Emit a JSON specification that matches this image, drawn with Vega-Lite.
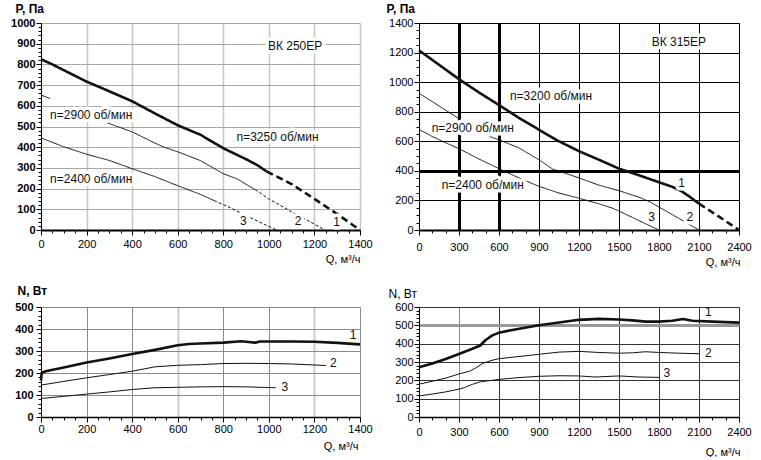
{
  "$schema": "https://vega.github.io/schema/vega-lite/v6.json",
  "background": "white",
  "padding": {"left": 10, "top": 2, "right": 0, "bottom": 0},
  "bounds": "flush",
  "columns": 2,
  "spacing": {"row": 77, "column": 59},
  "config": {
    "view": {"stroke": null},
    "legend": {"disable": true},
    "font": "Liberation Sans",
    "text": {"font": "Liberation Sans"},
    "axis": {
      "labelFont": "Liberation Sans", "titleFont": "Liberation Sans", "format": "d",
      "labelColor": "#000", "titleColor": "#000", "tickColor": "#000", "domainColor": "#000",
      "labelOverlap": false, "labelFlush": false, "labelFontSize": 11, "tickWidth": 1, "grid": true, "labelBound": false
    }
  },
  "datasets": {
    "p250": [
      {"Q":0,"P":825,"c":"1","s":"1s","k":"s"},{"Q":50,"P":800,"c":"1","s":"1s","k":"s"},{"Q":100,"P":772,"c":"1","s":"1s","k":"s"},{"Q":200,"P":717,"c":"1","s":"1s","k":"s"},{"Q":300,"P":670,"c":"1","s":"1s","k":"s"},{"Q":400,"P":622,"c":"1","s":"1s","k":"s"},{"Q":500,"P":563,"c":"1","s":"1s","k":"s"},{"Q":600,"P":506,"c":"1","s":"1s","k":"s"},{"Q":700,"P":460,"c":"1","s":"1s","k":"s"},{"Q":800,"P":395,"c":"1","s":"1s","k":"s"},{"Q":900,"P":342,"c":"1","s":"1s","k":"s"},{"Q":950,"P":313,"c":"1","s":"1s","k":"s"},{"Q":990,"P":283,"c":"1","s":"1s","k":"s"},
      {"Q":990,"P":283,"c":"1","s":"1d","k":"d"},{"Q":1100,"P":222,"c":"1","s":"1d","k":"d"},{"Q":1200,"P":150,"c":"1","s":"1d","k":"d"},{"Q":1300,"P":77,"c":"1","s":"1d","k":"d"},{"Q":1400,"P":0,"c":"1","s":"1d","k":"d"},
      {"Q":0,"P":652,"c":"2","s":"2a","k":"s"},{"Q":40,"P":635,"c":"2","s":"2a","k":"s"},
      {"Q":290,"P":518,"c":"2","s":"2b","k":"s"},{"Q":400,"P":474,"c":"2","s":"2b","k":"s"},{"Q":500,"P":420,"c":"2","s":"2b","k":"s"},{"Q":540,"P":400,"c":"2","s":"2b","k":"s"},{"Q":600,"P":378,"c":"2","s":"2b","k":"s"},{"Q":700,"P":335,"c":"2","s":"2b","k":"s"},{"Q":800,"P":272,"c":"2","s":"2b","k":"s"},{"Q":860,"P":247,"c":"2","s":"2b","k":"s"},{"Q":940,"P":195,"c":"2","s":"2b","k":"s"},
      {"Q":940,"P":195,"c":"2","s":"2d","k":"o"},{"Q":1000,"P":150,"c":"2","s":"2d","k":"o"},{"Q":1100,"P":88,"c":"2","s":"2d","k":"o"},{"Q":1200,"P":28,"c":"2","s":"2d","k":"o"},{"Q":1245,"P":0,"c":"2","s":"2d","k":"o"},
      {"Q":0,"P":445,"c":"3","s":"3s","k":"s"},{"Q":100,"P":402,"c":"3","s":"3s","k":"s"},{"Q":200,"P":366,"c":"3","s":"3s","k":"s"},{"Q":300,"P":336,"c":"3","s":"3s","k":"s"},{"Q":400,"P":296,"c":"3","s":"3s","k":"s"},{"Q":500,"P":258,"c":"3","s":"3s","k":"s"},{"Q":600,"P":214,"c":"3","s":"3s","k":"s"},{"Q":700,"P":172,"c":"3","s":"3s","k":"s"},{"Q":760,"P":142,"c":"3","s":"3s","k":"s"},
      {"Q":760,"P":142,"c":"3","s":"3d","k":"o"},{"Q":830,"P":108,"c":"3","s":"3d","k":"o"},{"Q":900,"P":70,"c":"3","s":"3d","k":"o"},{"Q":1000,"P":17,"c":"3","s":"3d","k":"o"},{"Q":1033,"P":0,"c":"3","s":"3d","k":"o"}
    ],
    "t250": [
      {"Q":996,"P":890,"t":"ВК 250ЕР"},{"Q":40,"P":555,"t":"n=2900 об/мин"},{"Q":858,"P":450,"t":"n=3250 об/мин"},{"Q":40,"P":244,"t":"n=2400 об/мин"},
      {"Q":873,"P":45,"t":"3"},{"Q":1114,"P":45,"t":"2"},{"Q":1283,"P":37,"t":"1"}
    ],
    "p315": [
      {"Q":0,"P":1215,"c":"1","s":"1s","k":"s"},{"Q":100,"P":1150,"c":"1","s":"1s","k":"s"},{"Q":200,"P":1085,"c":"1","s":"1s","k":"s"},{"Q":300,"P":1020,"c":"1","s":"1s","k":"s"},{"Q":450,"P":930,"c":"1","s":"1s","k":"s"},{"Q":600,"P":845,"c":"1","s":"1s","k":"s"},{"Q":750,"P":758,"c":"1","s":"1s","k":"s"},{"Q":900,"P":678,"c":"1","s":"1s","k":"s"},{"Q":1050,"P":600,"c":"1","s":"1s","k":"s"},{"Q":1200,"P":533,"c":"1","s":"1s","k":"s"},{"Q":1350,"P":475,"c":"1","s":"1s","k":"s"},{"Q":1500,"P":415,"c":"1","s":"1s","k":"s"},{"Q":1650,"P":370,"c":"1","s":"1s","k":"s"},{"Q":1800,"P":323,"c":"1","s":"1s","k":"s"},{"Q":1900,"P":292,"c":"1","s":"1s","k":"s"},{"Q":1970,"P":262,"c":"1","s":"1s","k":"s"},{"Q":2030,"P":225,"c":"1","s":"1s","k":"s"},{"Q":2100,"P":178,"c":"1","s":"1s","k":"s"},
      {"Q":2100,"P":178,"c":"1","s":"1d","k":"d"},{"Q":2250,"P":90,"c":"1","s":"1d","k":"d"},{"Q":2400,"P":0,"c":"1","s":"1d","k":"d"},
      {"Q":0,"P":925,"c":"2","s":"2a","k":"s"},{"Q":100,"P":868,"c":"2","s":"2a","k":"s"},{"Q":200,"P":810,"c":"2","s":"2a","k":"s"},{"Q":310,"P":748,"c":"2","s":"2a","k":"s"},
      {"Q":530,"P":632,"c":"2","s":"2b","k":"s"},{"Q":600,"P":610,"c":"2","s":"2b","k":"s"},{"Q":750,"P":555,"c":"2","s":"2b","k":"s"},{"Q":900,"P":475,"c":"2","s":"2b","k":"s"},{"Q":1000,"P":413,"c":"2","s":"2b","k":"s"},{"Q":1100,"P":383,"c":"2","s":"2b","k":"s"},{"Q":1200,"P":352,"c":"2","s":"2b","k":"s"},{"Q":1350,"P":303,"c":"2","s":"2b","k":"s"},{"Q":1500,"P":266,"c":"2","s":"2b","k":"s"},{"Q":1650,"P":222,"c":"2","s":"2b","k":"s"},{"Q":1730,"P":191,"c":"2","s":"2b","k":"s"},{"Q":1800,"P":155,"c":"2","s":"2b","k":"s"},{"Q":1900,"P":104,"c":"2","s":"2b","k":"s"},{"Q":2000,"P":52,"c":"2","s":"2b","k":"s"},{"Q":2100,"P":0,"c":"2","s":"2b","k":"s"},
      {"Q":0,"P":680,"c":"3","s":"3s","k":"s"},{"Q":100,"P":632,"c":"3","s":"3s","k":"s"},{"Q":200,"P":590,"c":"3","s":"3s","k":"s"},{"Q":300,"P":550,"c":"3","s":"3s","k":"s"},{"Q":450,"P":480,"c":"3","s":"3s","k":"s"},{"Q":600,"P":415,"c":"3","s":"3s","k":"s"},{"Q":750,"P":352,"c":"3","s":"3s","k":"s"},{"Q":900,"P":295,"c":"3","s":"3s","k":"s"},{"Q":1050,"P":250,"c":"3","s":"3s","k":"s"},{"Q":1200,"P":215,"c":"3","s":"3s","k":"s"},{"Q":1350,"P":177,"c":"3","s":"3s","k":"s"},{"Q":1450,"P":148,"c":"3","s":"3s","k":"s"},{"Q":1500,"P":128,"c":"3","s":"3s","k":"s"},{"Q":1600,"P":85,"c":"3","s":"3s","k":"s"},{"Q":1700,"P":42,"c":"3","s":"3s","k":"s"},{"Q":1800,"P":0,"c":"3","s":"3s","k":"s"}
    ],
    "t315": [
      {"Q":1745,"P":1274,"t":"ВК 315ЕР"},{"Q":682,"P":904,"t":"n=3200 об/мин"},{"Q":95,"P":691,"t":"n=2900 об/мин"},{"Q":170,"P":305,"t":"n=2400 об/мин"},
      {"Q":1945,"P":321,"t":"1"},{"Q":2007,"P":85,"t":"2"},{"Q":1720,"P":85,"t":"3"}
    ],
    "n250": [
      {"Q":0,"N":165,"c":"1"},{"Q":3,"N":200,"c":"1"},{"Q":20,"N":208,"c":"1"},{"Q":100,"N":225,"c":"1"},{"Q":200,"N":248,"c":"1"},{"Q":300,"N":266,"c":"1"},{"Q":400,"N":286,"c":"1"},{"Q":500,"N":305,"c":"1"},{"Q":600,"N":326,"c":"1"},{"Q":650,"N":332,"c":"1"},{"Q":700,"N":334,"c":"1"},{"Q":800,"N":338,"c":"1"},{"Q":880,"N":344,"c":"1"},{"Q":910,"N":341,"c":"1"},{"Q":940,"N":338,"c":"1"},{"Q":960,"N":343,"c":"1"},{"Q":1000,"N":343,"c":"1"},{"Q":1100,"N":343,"c":"1"},{"Q":1200,"N":342,"c":"1"},{"Q":1300,"N":337,"c":"1"},{"Q":1400,"N":330,"c":"1"},
      {"Q":0,"N":145,"c":"2"},{"Q":100,"N":162,"c":"2"},{"Q":200,"N":178,"c":"2"},{"Q":300,"N":193,"c":"2"},{"Q":400,"N":208,"c":"2"},{"Q":500,"N":228,"c":"2"},{"Q":600,"N":235,"c":"2"},{"Q":700,"N":238,"c":"2"},{"Q":800,"N":243,"c":"2"},{"Q":900,"N":244,"c":"2"},{"Q":1000,"N":243,"c":"2"},{"Q":1100,"N":241,"c":"2"},{"Q":1250,"N":234,"c":"2"},
      {"Q":0,"N":84,"c":"3"},{"Q":100,"N":94,"c":"3"},{"Q":200,"N":104,"c":"3"},{"Q":300,"N":114,"c":"3"},{"Q":400,"N":125,"c":"3"},{"Q":500,"N":133,"c":"3"},{"Q":600,"N":135,"c":"3"},{"Q":700,"N":137,"c":"3"},{"Q":800,"N":138,"c":"3"},{"Q":900,"N":137,"c":"3"},{"Q":1030,"N":133,"c":"3"}
    ],
    "tn250": [
      {"Q":1355,"N":375,"t":"1"},{"Q":1268,"N":245,"t":"2"},{"Q":1056,"N":138,"t":"3"}
    ],
    "n315": [
      {"Q":0,"N":271,"c":"1"},{"Q":100,"N":292,"c":"1"},{"Q":200,"N":316,"c":"1"},{"Q":300,"N":344,"c":"1"},{"Q":400,"N":372,"c":"1"},{"Q":460,"N":390,"c":"1"},{"Q":500,"N":420,"c":"1"},{"Q":550,"N":445,"c":"1"},{"Q":600,"N":460,"c":"1"},{"Q":700,"N":475,"c":"1"},{"Q":900,"N":500,"c":"1"},{"Q":1050,"N":515,"c":"1"},{"Q":1200,"N":530,"c":"1"},{"Q":1350,"N":535,"c":"1"},{"Q":1500,"N":532,"c":"1"},{"Q":1600,"N":527,"c":"1"},{"Q":1700,"N":520,"c":"1"},{"Q":1800,"N":520,"c":"1"},{"Q":1900,"N":525,"c":"1"},{"Q":1980,"N":535,"c":"1"},{"Q":2050,"N":525,"c":"1"},{"Q":2200,"N":520,"c":"1"},{"Q":2400,"N":515,"c":"1"},
      {"Q":0,"N":179,"c":"2"},{"Q":100,"N":195,"c":"2"},{"Q":200,"N":212,"c":"2"},{"Q":300,"N":235,"c":"2"},{"Q":380,"N":250,"c":"2"},{"Q":420,"N":265,"c":"2"},{"Q":480,"N":293,"c":"2"},{"Q":540,"N":308,"c":"2"},{"Q":600,"N":318,"c":"2"},{"Q":750,"N":330,"c":"2"},{"Q":900,"N":342,"c":"2"},{"Q":1050,"N":354,"c":"2"},{"Q":1200,"N":358,"c":"2"},{"Q":1350,"N":352,"c":"2"},{"Q":1500,"N":348,"c":"2"},{"Q":1600,"N":350,"c":"2"},{"Q":1700,"N":356,"c":"2"},{"Q":1800,"N":352,"c":"2"},{"Q":1950,"N":348,"c":"2"},{"Q":2100,"N":345,"c":"2"},
      {"Q":0,"N":115,"c":"3"},{"Q":100,"N":125,"c":"3"},{"Q":200,"N":137,"c":"3"},{"Q":300,"N":152,"c":"3"},{"Q":340,"N":160,"c":"3"},{"Q":400,"N":178,"c":"3"},{"Q":460,"N":192,"c":"3"},{"Q":600,"N":205,"c":"3"},{"Q":750,"N":215,"c":"3"},{"Q":900,"N":222,"c":"3"},{"Q":1050,"N":225,"c":"3"},{"Q":1200,"N":224,"c":"3"},{"Q":1320,"N":218,"c":"3"},{"Q":1500,"N":224,"c":"3"},{"Q":1650,"N":218,"c":"3"},{"Q":1800,"N":216,"c":"3"}
    ],
    "tn315": [
      {"Q":2145,"N":574,"t":"1"},{"Q":2145,"N":349,"t":"2"},{"Q":1833,"N":240,"t":"3"}
    ]
  },
  "concat": [
    {
      "width": 319, "height": 207,
      "encoding": {
        "x": {"field": "Q", "type": "quantitative", "scale": {"domain": [0, 1400], "nice": false},
          "axis": {
            "values": [0,50,100,150,200,250,300,350,400,450,500,550,600,650,700,750,800,850,900,950,1000,1050,1100,1150,1200,1250,1300,1350,1400],
            "labelExpr": "datum.value % 200 === 0 ? datum.label : ''",
            "gridColor": "#c4c4c4", "gridWidth": 1.5,
            "gridOpacity": {"condition": {"test": "datum.value % 200 !== 0", "value": 0}, "value": 1},
            "tickSize": {"condition": {"test": "datum.value % 200 !== 0", "value": 3}, "value": 5},
            "domainWidth": 2, "labelPadding": 3,
            "title": "Q, м³/ч", "titleAlign": "right", "titleX": 319, "titleY": 32, "titleBaseline": "alphabetic", "titleFontWeight": "normal", "titleFontSize": 11
          }},
        "y": {"field": "P", "type": "quantitative", "scale": {"domain": [0, 1000], "nice": false},
          "axis": {
            "values": [0,20,40,60,80,100,120,140,160,180,200,220,240,260,280,300,320,340,360,380,400,420,440,460,480,500,520,540,560,580,600,620,640,660,680,700,720,740,760,780,800,820,840,860,880,900,920,940,960,980,1000],
            "labelExpr": "datum.value % 100 === 0 ? datum.label : ''",
            "gridColor": "#a8a8a8", "gridWidth": 1,
            "gridOpacity": {"condition": {"test": "datum.value % 100 !== 0", "value": 0}, "value": 1},
            "tickSize": {"condition": {"test": "datum.value % 100 !== 0", "value": 3}, "value": 5},
            "labelFontWeight": "bold", "labelPadding": 1,
            "title": "P, Па", "titleAngle": 0, "titleAlign": "left", "titleBaseline": "alphabetic", "titleX": -26, "titleY": -11, "titleFontWeight": "bold", "titleFontSize": 12
          }}
      },
      "layer": [
        {"data": {"name": "p250"}, "mark": {"type": "line", "color": "#111", "strokeCap": "butt", "strokeJoin": "round"},
          "encoding": {
            "detail": {"field": "s"},
            "strokeWidth": {"field": "c", "type": "nominal", "scale": {"type": "ordinal", "domain": ["1","2","3"], "range": [2.6, 1, 1]}, "legend": null},
            "strokeDash": {"field": "k", "type": "nominal", "scale": {"domain": ["s","d","o"], "range": [[1,0],[7,4],[3,2]]}, "legend": null}
          }},
        {"data": {"name": "t250"}, "mark": {"type": "text", "align": "left", "baseline": "middle", "fontSize": 12, "color": "white", "stroke": "white", "strokeWidth": 7, "strokeJoin": "round"},
          "encoding": {"text": {"field": "t"}}},
        {"data": {"name": "t250"}, "mark": {"type": "text", "align": "left", "baseline": "middle", "fontSize": 12, "color": "#111"},
          "encoding": {"text": {"field": "t"}}}
      ]
    },
    {
      "width": 320, "height": 207,
      "encoding": {
        "x": {"field": "Q", "type": "quantitative", "scale": {"domain": [0, 2400], "nice": false},
          "axis": {
            "values": [0,100,200,300,400,500,600,700,800,900,1000,1100,1200,1300,1400,1500,1600,1700,1800,1900,2000,2100,2200,2300,2400],
            "labelExpr": "datum.value % 300 === 0 ? datum.label : ''",
            "gridColor": "#000",
            "gridWidth": {"condition": {"test": "datum.value == 300 || datum.value == 600", "value": 3}, "value": 1},
            "gridOpacity": {"condition": {"test": "datum.value % 300 !== 0", "value": 0}, "value": 1},
            "tickSize": {"condition": {"test": "datum.value % 300 !== 0", "value": 3}, "value": 5},
            "domainWidth": 2, "labelPadding": 6,
            "title": "Q, м³/ч", "titleAlign": "right", "titleX": 321, "titleY": 35, "titleBaseline": "alphabetic", "titleFontWeight": "normal", "titleFontSize": 11
          }},
        "y": {"field": "P", "type": "quantitative", "scale": {"domain": [0, 1400], "nice": false},
          "axis": {
            "values": [0,50,100,150,200,250,300,350,400,450,500,550,600,650,700,750,800,850,900,950,1000,1050,1100,1150,1200,1250,1300,1350,1400],
            "labelExpr": "datum.value % 200 === 0 ? datum.label : ''",
            "gridColor": "#000",
            "gridWidth": {"condition": {"test": "datum.value == 400", "value": 3}, "value": 1},
            "gridOpacity": {"condition": {"test": "datum.value % 200 !== 0", "value": 0}, "value": 1},
            "tickSize": {"condition": {"test": "datum.value % 200 !== 0", "value": 3}, "value": 5},
            "labelPadding": 1,
            "title": "P, Па", "titleAngle": 0, "titleAlign": "left", "titleBaseline": "alphabetic", "titleX": -33, "titleY": -11, "titleFontWeight": "bold", "titleFontSize": 12
          }}
      },
      "layer": [
        {"data": {"name": "p315"}, "mark": {"type": "line", "color": "#111", "strokeCap": "butt", "strokeJoin": "round"},
          "encoding": {
            "detail": {"field": "s"},
            "strokeWidth": {"field": "c", "type": "nominal", "scale": {"type": "ordinal", "domain": ["1","2","3"], "range": [3, 1.4, 1.4]}, "legend": null},
            "strokeDash": {"field": "k", "type": "nominal", "scale": {"domain": ["s","d","o"], "range": [[1,0],[7,4],[3,2]]}, "legend": null}
          }},
        {"data": {"name": "t315"}, "mark": {"type": "text", "align": "left", "baseline": "middle", "fontSize": 12, "color": "white", "stroke": "white", "strokeWidth": 7, "strokeJoin": "round"},
          "encoding": {"text": {"field": "t"}}},
        {"data": {"name": "t315"}, "mark": {"type": "text", "align": "left", "baseline": "middle", "fontSize": 12, "color": "#111"},
          "encoding": {"text": {"field": "t"}}}
      ]
    },
    {
      "width": 319, "height": 110,
      "encoding": {
        "x": {"field": "Q", "type": "quantitative", "scale": {"domain": [0, 1400], "nice": false},
          "axis": {
            "values": [0,50,100,150,200,250,300,350,400,450,500,550,600,650,700,750,800,850,900,950,1000,1050,1100,1150,1200,1250,1300,1350,1400],
            "labelExpr": "datum.value % 200 === 0 ? datum.label : ''",
            "gridColor": {"condition": {"test": "datum.value == 600 || datum.value == 1200", "value": "#cccccc"}, "value": "#8a8a8a"},
            "gridWidth": {"condition": {"test": "datum.value == 600 || datum.value == 1200", "value": 2}, "value": 1},
            "gridOpacity": {"condition": {"test": "datum.value % 200 !== 0", "value": 0}, "value": 1},
            "tickSize": {"condition": {"test": "datum.value % 200 !== 0", "value": 3}, "value": 5},
            "domainWidth": 1.5, "labelPadding": 1,
            "title": "Q, м³/ч", "titleAlign": "right", "titleX": 317, "titleY": 32, "titleBaseline": "alphabetic", "titleFontWeight": "normal", "titleFontSize": 11
          }},
        "y": {"field": "N", "type": "quantitative", "scale": {"domain": [0, 500], "nice": false},
          "axis": {
            "values": [0,20,40,60,80,100,120,140,160,180,200,220,240,260,280,300,320,340,360,380,400,420,440,460,480,500],
            "labelExpr": "datum.value % 100 === 0 ? datum.label : ''",
            "gridColor": "#8a8a8a", "gridWidth": 1,
            "gridOpacity": {"condition": {"test": "datum.value % 100 !== 0", "value": 0}, "value": 1},
            "tickSize": {"condition": {"test": "datum.value % 100 !== 0", "value": 3}, "value": 5},
            "labelFontWeight": "bold", "labelPadding": 3,
            "title": "N, Вт", "titleAngle": 0, "titleAlign": "left", "titleBaseline": "alphabetic", "titleX": -24, "titleY": -13, "titleFontWeight": "bold", "titleFontSize": 12
          }}
      },
      "layer": [
        {"data": {"name": "n250"}, "mark": {"type": "line", "color": "#111", "strokeCap": "butt", "strokeJoin": "round"},
          "encoding": {
            "detail": {"field": "c"},
            "strokeWidth": {"field": "c", "type": "nominal", "scale": {"type": "ordinal", "domain": ["1","2","3"], "range": [2.6, 1, 1]}, "legend": null}
          }},
        {"data": {"name": "tn250"}, "mark": {"type": "text", "align": "left", "baseline": "middle", "fontSize": 12, "color": "#111"},
          "encoding": {"text": {"field": "t"}}}
      ]
    },
    {
      "width": 320, "height": 110,
      "encoding": {
        "x": {"field": "Q", "type": "quantitative", "scale": {"domain": [0, 2400], "nice": false},
          "axis": {
            "values": [0,100,200,300,400,500,600,700,800,900,1000,1100,1200,1300,1400,1500,1600,1700,1800,1900,2000,2100,2200,2300,2400],
            "labelExpr": "datum.value % 300 === 0 ? datum.label : ''",
            "gridColor": {"condition": {"test": "datum.value == 300", "value": "#8a8a8a"}, "value": "#333333"},
            "gridWidth": 1,
            "gridOpacity": {"condition": {"test": "datum.value % 300 !== 0", "value": 0}, "value": 1},
            "tickSize": {"condition": {"test": "datum.value % 300 !== 0", "value": 3}, "value": 5},
            "domainWidth": 1.5, "labelPadding": 4,
            "title": "Q, м³/ч", "titleAlign": "right", "titleX": 321, "titleY": 38, "titleBaseline": "alphabetic", "titleFontWeight": "normal", "titleFontSize": 11
          }},
        "y": {"field": "N", "type": "quantitative", "scale": {"domain": [0, 600], "nice": false},
          "axis": {
            "values": [0,20,40,60,80,100,120,140,160,180,200,220,240,260,280,300,320,340,360,380,400,420,440,460,480,500,520,540,560,580,600],
            "labelExpr": "datum.value % 100 === 0 ? datum.label : ''",
            "gridColor": {"condition": {"test": "datum.value == 500", "value": "#999999"}, "value": "#333333"},
            "gridWidth": {"condition": {"test": "datum.value == 500", "value": 3}, "value": 1},
            "gridOpacity": {"condition": {"test": "datum.value % 100 !== 0", "value": 0}, "value": 1},
            "tickSize": {"condition": {"test": "datum.value % 100 !== 0", "value": 3}, "value": 5},
            "labelPadding": 1,
            "title": "N, Вт", "titleAngle": 0, "titleAlign": "left", "titleBaseline": "alphabetic", "titleX": -31, "titleY": -10, "titleFontWeight": "normal", "titleFontSize": 12
          }}
      },
      "layer": [
        {"data": {"name": "n315"}, "mark": {"type": "line", "color": "#111", "strokeCap": "butt", "strokeJoin": "round"},
          "encoding": {
            "detail": {"field": "c"},
            "strokeWidth": {"field": "c", "type": "nominal", "scale": {"type": "ordinal", "domain": ["1","2","3"], "range": [3, 1.2, 1.2]}, "legend": null}
          }},
        {"data": {"name": "tn315"}, "mark": {"type": "text", "align": "left", "baseline": "middle", "fontSize": 12, "color": "#111"},
          "encoding": {"text": {"field": "t"}}}
      ]
    }
  ]
}
